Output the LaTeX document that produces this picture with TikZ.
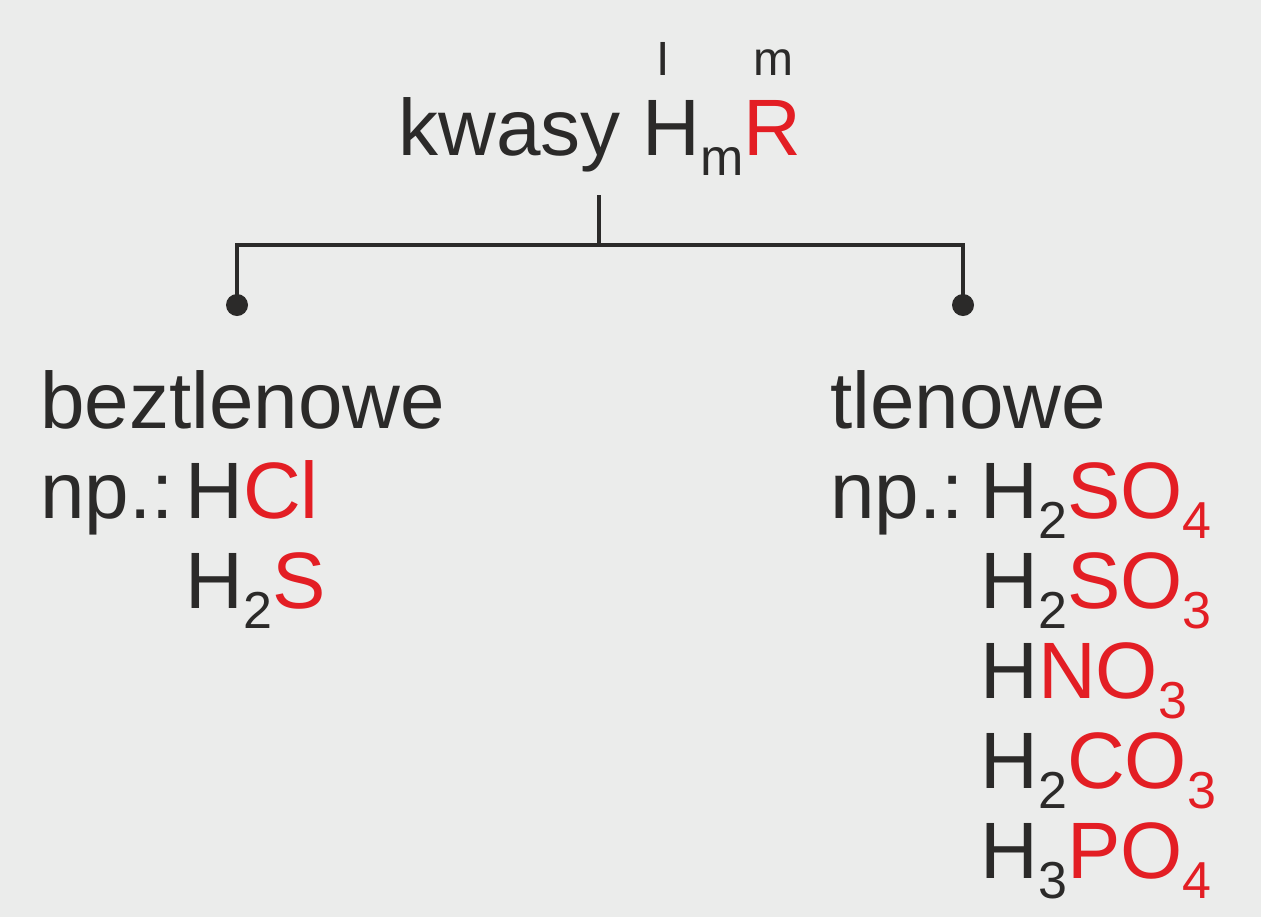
\documentclass[tikz,border=0pt]{standalone}
\usepackage{fontspec}
\setmainfont{Liberation Sans}
\definecolor{bg}{HTML}{EBECEB}
\definecolor{ink}{HTML}{2B2A29}
\definecolor{rd}{HTML}{E31E24}
\newcommand{\lo}[1]{\raisebox{-10pt}{\fontsize{26}{28}\selectfont #1}}
\newcommand{\rr}[1]{\textcolor{rd}{#1}}
\begin{document}
\begin{tikzpicture}[x=0.5pt,y=-0.5pt,
  txt/.style={anchor=base west,inner sep=0,text=ink,font=\fontsize{40}{42}\selectfont},
  small/.style={anchor=base,inner sep=0,text=ink,font=\fontsize{24}{26}\selectfont},
  ln/.style={draw=ink,line width=2pt},
  dot/.style={circle,fill=ink,inner sep=0,minimum size=11pt}]
\fill[bg] (0,0) rectangle (1261,917);
\useasboundingbox (0,0) rectangle (1261,917);
\node[txt] (title) at (398,155) {kwasy H\lo{m}\rr{R}};
\node[small] (sI) at (663,75) {I};
\node[small] (sm) at (773,75) {m};
\coordinate (top) at (599,195);
\coordinate (mid) at (599,245);
\coordinate (hl) at (237,245);
\coordinate (hr) at (963,245);
\node[dot] (dl) at (237,305) {};
\node[dot] (dr) at (963,305) {};
\draw[ln] (top) -- (mid);
\draw[ln] (dl.center) -- (hl) -- (hr) -- (dr.center);
\node[txt] (bez) at (40,428) {beztlenowe};
\node[txt] (np1) at (40,518) {np.:};
\node[txt] (hcl) at (185,518) {H\rr{Cl}};
\node[txt] (h2s) at (185,608) {H\lo{2}\rr{S}};
\node[txt] (tle) at (830,428) {tlenowe};
\node[txt] (np2) at (830,518) {np.:};
\node[txt] (f1) at (980,518) {H\lo{2}\rr{SO\lo{4}}};
\node[txt] (f2) at (980,608) {H\lo{2}\rr{SO\lo{3}}};
\node[txt] (f3) at (980,698) {H\rr{NO\lo{3}}};
\node[txt] (f4) at (980,788) {H\lo{2}\rr{CO\lo{3}}};
\node[txt] (f5) at (980,878) {H\lo{3}\rr{PO\lo{4}}};
\end{tikzpicture}
\end{document}
